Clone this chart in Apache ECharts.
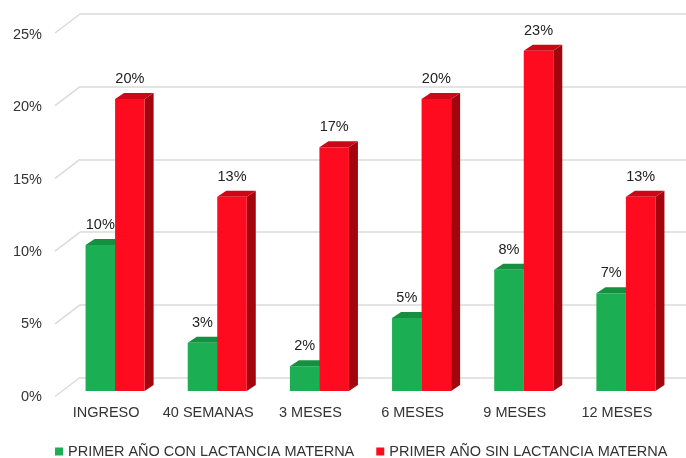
<!DOCTYPE html>
<html>
<head>
<meta charset="utf-8">
<script src="https://cdn.jsdelivr.net/npm/echarts@6/dist/echarts.min.js"></script>
<style>
html,body{margin:0;padding:0;background:#fff;}
#c{width:686px;height:458px;}
</style>
</head>
<body>
<div id="c"></div>
<script>
var categories = ['INGRESO', '40 SEMANAS', '3 MESES', '6 MESES', '9 MESES', '12 MESES'];
var conLactancia = [10, 3.3, 1.7, 5, 8.3, 6.7];
var sinLactancia = [20, 13.3, 16.7, 20, 23.3, 13.3];
var yTicks = [0, 5, 10, 15, 20, 25];
var seriesNames = ['PRIMER AÑO CON LACTANCIA MATERNA', 'PRIMER AÑO SIN LACTANCIA MATERNA'];

var FONT = '"Liberation Sans", Arial, Helvetica, sans-serif';
var DX = 9, DY = 6;
var palettes = [
  {front: '#1cae53', side: '#10803a', top: '#168f41'},
  {front: '#fe0b1f', side: '#a3050f', top: '#cc0717'}
];

function barRenderer(side) {
  return function (params, api) {
    var i = api.value(0), v = api.value(1);
    var pt = api.coord([i, v]);
    var base = api.coord([i, 0]);
    var bw = api.size([1, 0])[0] * 0.289;
    var cx = pt[0];
    var x0 = side === 0 ? cx - bw : cx;
    var x1 = side === 0 ? cx : cx + bw;
    var yt = pt[1], yb = base[1];
    var p = palettes[side];
    return {
      type: 'group',
      children: [
        {type: 'polygon', shape: {points: [[x1, yt], [x1 + DX, yt - DY], [x1 + DX, yb - DY], [x1, yb]]}, style: {fill: p.side}},
        {type: 'polygon', shape: {points: [[x0, yt], [x0 + DX, yt - DY], [x1 + DX, yt - DY], [x1, yt]]}, style: {fill: p.top}},
        {type: 'rect', shape: {x: x0, y: yt, width: x1 - x0, height: yb - yt}, style: {fill: p.front}},
        {type: 'text', style: {text: Math.round(v) + '%', x: (x0 + x1) / 2, y: yt - 20, align: 'center', verticalAlign: 'middle', font: '14.5px ' + FONT, fill: '#222'}}
      ]
    };
  };
}

var chart = echarts.init(document.getElementById('c'));
chart.setOption({
  animation: false,
  backgroundColor: '#fff',
  grid: [
    {left: 64, right: 9, top: 26, bottom: 67},
    {left: 80, right: 0, top: 14, bottom: 80.5},
    {left: 55, right: 0, top: 35, bottom: 61.5}
  ],
  xAxis: [
    {gridIndex: 0, type: 'category', data: categories, axisLine: {show: false}, axisTick: {show: false},
     axisLabel: {margin: 14, fontSize: 14.5, color: '#333', fontFamily: FONT, padding: [0, 18, 0, 0], interval: 0}},
    {gridIndex: 1, type: 'value', min: 0, max: 1, show: false},
    {gridIndex: 2, type: 'value', min: 0, max: 1, show: false}
  ],
  yAxis: [
    {gridIndex: 0, type: 'value', min: 0, max: 25, interval: 5, show: false},
    {gridIndex: 1, type: 'value', min: 0, max: 25, interval: 5, axisLine: {show: false}, axisTick: {show: false}, axisLabel: {show: false},
     splitLine: {lineStyle: {color: '#dadada', width: 1.5}}},
    {gridIndex: 2, type: 'value', min: 0, max: 25, interval: 5, axisLine: {show: false}, axisTick: {show: false}, splitLine: {show: false},
     axisLabel: {margin: 13, fontSize: 14.5, color: '#333', fontFamily: FONT, formatter: '{value}%'}}
  ],
  legend: {
    left: 50, top: 439, icon: 'rect', itemWidth: 8, itemHeight: 8, itemGap: 22,
    textStyle: {fontSize: 14.5, color: '#333', fontFamily: FONT},
    data: seriesNames
  },
  series: [
    {type: 'custom', xAxisIndex: 1, yAxisIndex: 1, silent: true,
     data: yTicks.map(function (t) { return [0, t]; }),
     renderItem: function (params, api) {
       var p = api.coord([0, api.value(1)]);
       return {type: 'line', shape: {x1: p[0] - 25, y1: p[1] + 19, x2: p[0], y2: p[1]}, style: {stroke: '#dadada', lineWidth: 1.5}};
     }},
    {name: seriesNames[0], type: 'custom', xAxisIndex: 0, yAxisIndex: 0, itemStyle: {color: palettes[0].front},
     data: conLactancia.map(function (v, i) { return [i, v]; }), renderItem: barRenderer(0)},
    {name: seriesNames[1], type: 'custom', xAxisIndex: 0, yAxisIndex: 0, itemStyle: {color: palettes[1].front},
     data: sinLactancia.map(function (v, i) { return [i, v]; }), renderItem: barRenderer(1)}
  ]
});
</script>
</body>
</html>
